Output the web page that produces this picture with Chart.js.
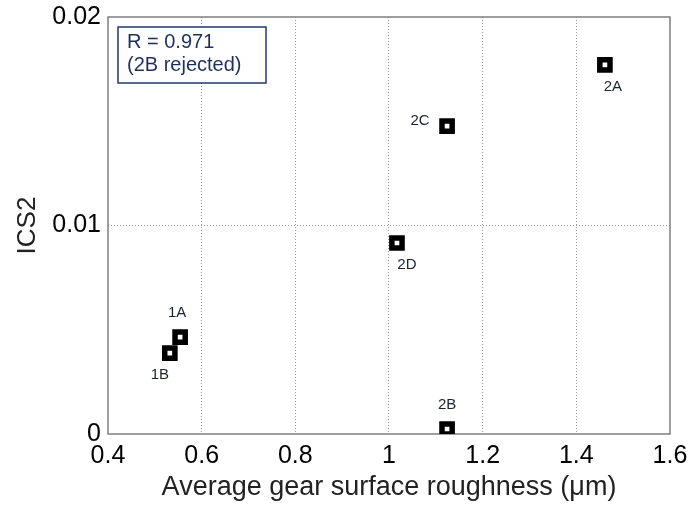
<!DOCTYPE html>
<html><head><meta charset="utf-8">
<script src="https://cdn.jsdelivr.net/npm/chart.js@4.4.1/dist/chart.umd.min.js"></script>
<style>html,body{margin:0;padding:0;background:#fff}#wrap{width:694px;height:506px}</style>
</head><body><div id="wrap"><canvas id="c"></canvas></div>
<script>
const sampleNames = ["2A","2C","2D","1A","1B","2B"];
const roughness = [1.461, 1.124, 1.017, 0.554, 0.532, 1.124];
const ics2 = [0.0177, 0.01477, 0.00916, 0.00465, 0.00388, 0.00024];
const xTickLabels = ["0.4","0.6","0.8","1","1.2","1.4","1.6"];
const yTickLabels = ["0","0.01","0.02"];
const annotationLines = ["R = 0.971","(2B rejected)"];
// label offsets in px relative to point (style only)
const labelOffsets = {"2A":[8,22],"2C":[-27,-5],"2D":[10,22],"1A":[-3,-24],"1B":[-10,22],"2B":[0,-24]};

const FONT = "'Liberation Sans', Arial, sans-serif";

const deco = {
  id:'deco',
  beforeDatasetsDraw(chart){
    const {ctx, chartArea:a} = chart;
    ctx.save();
    ctx.strokeStyle = '#7f7f7f'; ctx.lineWidth = 1.5;
    ctx.strokeRect(a.left, a.top, a.right-a.left, a.bottom-a.top);
    ctx.restore();
  },
  afterDatasetsDraw(chart){
    const {ctx, chartArea:a, scales} = chart;
    ctx.save();
    ctx.font = "15px " + FONT;
    ctx.fillStyle = '#1b2233';
    ctx.textAlign = 'center'; ctx.textBaseline = 'middle';
    sampleNames.forEach((n,i)=>{
      const px = scales.x.getPixelForValue(roughness[i]);
      const py = scales.y.getPixelForValue(ics2[i]);
      const o = labelOffsets[n];
      ctx.fillText(n, px+o[0], py+o[1]);
    });
    // annotation box
    const bx = a.left+10, by = a.top+10, bw = 148, bh = 56;
    ctx.fillStyle = '#fff';
    ctx.fillRect(bx,by,bw,bh);
    ctx.strokeStyle = '#1f3a6e'; ctx.lineWidth = 1.5;
    ctx.strokeRect(bx,by,bw,bh);
    ctx.fillStyle = '#1f2f5c';
    ctx.font = "20px " + FONT;
    ctx.textAlign = 'left';
    ctx.fillText(annotationLines[0], bx+9, by+15);
    ctx.fillText(annotationLines[1], bx+9, by+38);
    ctx.restore();
  }
};

new Chart(document.getElementById('c'), {
  type:'scatter',
  data:{datasets:[{
    data: roughness.map((x,i)=>({x, y: ics2[i]})),
    pointStyle:'rect', pointRadius:7.2, pointHoverRadius:7.2,
    borderColor:'#000', backgroundColor:'#fff', borderWidth:5.5, pointBorderWidth:5.5
  }]},
  options:{
    responsive:true, maintainAspectRatio:false, animation:false,
    events:[],
    layout:{padding:{left:0, top:17, right:24, bottom:0}},
    plugins:{legend:{display:false}, tooltip:{enabled:false}},
    scales:{
      x:{
        type:'linear', min:0.4, max:1.6,
        afterFit(s){ s.height = 72; s.paddingLeft = 0; s.paddingRight = 0; },
        afterBuildTicks(s){ s.ticks = xTickLabels.map(t=>({value:parseFloat(t)})); },
        ticks:{ callback:(v)=>{ const i = xTickLabels.findIndex(t=>Math.abs(parseFloat(t)-v)<1e-9); return i>=0?xTickLabels[i]:''; },
          color:'#000', font:{family:FONT, size:25}, padding:7, maxRotation:0, autoSkip:false },
        grid:{ color:(c)=> (c.index===0||c.index===xTickLabels.length-1)?'rgba(0,0,0,0)':'#9a9a9a', lineWidth:1, drawTicks:false },
        border:{display:false, dash:[1,2]},
        title:{display:true, text:'Average gear surface roughness (\u03bcm)', color:'#222', font:{family:FONT, size:27}, padding:{top:0,bottom:2}}
      },
      y:{
        type:'linear', min:0, max:0.02,
        afterFit(s){ s.width = 108; s.paddingTop = 0; s.paddingBottom = 0; },
        afterBuildTicks(s){ s.ticks = yTickLabels.map(t=>({value:parseFloat(t)})); },
        ticks:{ callback:(v)=>{ const i = yTickLabels.findIndex(t=>Math.abs(parseFloat(t)-v)<1e-12); return i>=0?yTickLabels[i]:''; },
          color:'#000', font:{family:FONT, size:25}, padding:7, autoSkip:false },
        grid:{ color:(c)=> (c.index===0||c.index===yTickLabels.length-1)?'rgba(0,0,0,0)':'#9a9a9a', lineWidth:1, drawTicks:false },
        border:{display:false, dash:[1,2]},
        title:{display:true, text:'ICS2', color:'#222', font:{family:FONT, size:26}, padding:{top:12,bottom:4}}
      }
    }
  },
  plugins:[deco]
});
</script>
</body></html>
